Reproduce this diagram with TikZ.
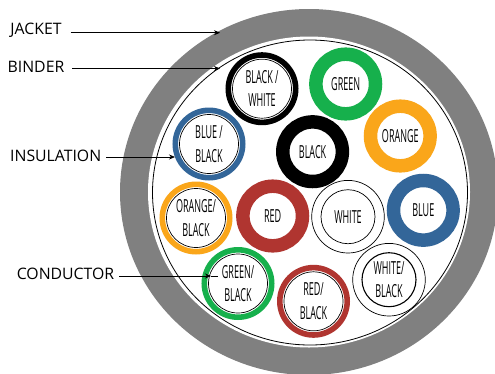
\documentclass[tikz,border=0pt]{standalone}
\usepackage{fontspec}
\usepackage{graphicx}
\setmainfont{Open Sans}
\usetikzlibrary{arrows.meta}
\definecolor{jacketgray}{HTML}{808080}
\definecolor{wgreen}{HTML}{16B04C}
\definecolor{worange}{HTML}{FAA61A}
\definecolor{wblue}{HTML}{336699}
\definecolor{wred}{HTML}{B03530}
\newcommand{\nar}[1]{\scalebox{0.5}[1]{#1}}
\tikzset{
  wiretext/.style={align=center,text=black,font=\fontsize{18}{23.5}\selectfont,inner sep=0pt,outer sep=0pt},
  solidwire/.style={circle,draw=#1,line width=13.5pt,minimum size=59.6pt,wiretext},
  stripewire/.style={circle,draw=#1,line width=5.6pt,minimum size=67.4pt,wiretext},
  whitewire/.style={circle,draw=black,line width=0.7pt,minimum size=72.6pt,wiretext},
  core/.style={draw=black,line width=0.7pt},
  thickcore/.style={draw=black,line width=1.1pt},
  callout/.style={font=\fontsize{15.8}{18}\selectfont,text=black,inner sep=0pt,outer sep=0pt},
  leader/.style={draw=black,line width=0.75pt,-{Stealth[length=6pt,width=5pt]}},
  leaderplain/.style={draw=black,line width=0.75pt}
}
\begin{document}
\begin{tikzpicture}[x=1pt,y=-1pt]
\useasboundingbox (0,0) rectangle (495,373);
\begin{scope}
\clip (0,0) rectangle (495,373);
\fill[white] (0,0) rectangle (495,373);
\fill[jacketgray] (309,192) ellipse [x radius=189,y radius=183];
\fill[white] (309,192) ellipse [x radius=161,y radius=155.5];
\draw[black,line width=0.8pt] (310,192.5) ellipse [x radius=157.5,y radius=152.5];
\end{scope}
% wires
\node[stripewire=black] (bw) at (262,88.7) {\nar{BLACK /}\\\nar{WHITE}};
\draw[core] (bw.center) circle (29.5);
\node[solidwire=wgreen] (gr) at (345.7,84) {\nar{GREEN}};
\node[solidwire=worange] (or) at (400.3,136) {\nar{ORANGE}};
\node[stripewire=wblue] (bb) at (209,144) {\nar{BLUE /}\\\nar{BLACK}};
\draw[core] (bb.center) circle (29.5);
\node[solidwire=black] (bk) at (312.6,151.7) {\nar{BLACK}};
\node[stripewire=worange] (ob) at (196,218) {\nar{ORANGE/}\\\nar{BLACK}};
\draw[core] (ob.center) circle (29.5);
\node[solidwire=wred] (rd) at (272.7,216) {\nar{RED}};
\node[whitewire] (wh) at (348,216.7) {\nar{WHITE}};
\draw[core] (wh.center) circle (27);
\node[solidwire=wblue] (bl) at (423.3,210.3) {\nar{BLUE}};
\node[stripewire=wgreen] (gb) at (238,283.5) {\nar{GREEN/}\\\nar{BLACK}};
\draw[core] (gb.center) circle (29.5);
\node[stripewire=wred] (rb) at (313.5,301.3) {\nar{RED/}\\\nar{BLACK}};
\draw[core] (rb.center) circle (29.5);
\node[whitewire] (wb) at (389,279.7) {\nar{WHITE/}\\\nar{BLACK}};
\draw[thickcore] (wb.center) circle (27);
% labels
\node[callout] (jacket) at (36,30.5) {JACKET};
\node[callout] (binder) at (36,66.5) {BINDER};
\node[callout] (insulation) at (55.7,155.5) {INSULATION};
\node[callout] (conductor) at (65.5,274) {CONDUCTOR};
\coordinate (jacketend) at (220,32.7);
\coordinate (binderend) at (220,68.5);
\coordinate (insulationend) at (175,157);
\coordinate (conductortip) at (211,276);
\coordinate (conductorend) at (218,276);
\draw[leader] (jacket.east |- jacketend) ++(9,0) -- (jacketend);
\draw[leader] (binder.east |- binderend) ++(8,0) -- (binderend);
\draw[leader] (insulation.east |- insulationend) ++(5,0) -- (insulationend);
\draw[leader] (conductor.east |- conductortip) ++(5,0) -- (conductortip);
\draw[leaderplain] (conductortip) -- (conductorend);
\end{tikzpicture}
\end{document}
